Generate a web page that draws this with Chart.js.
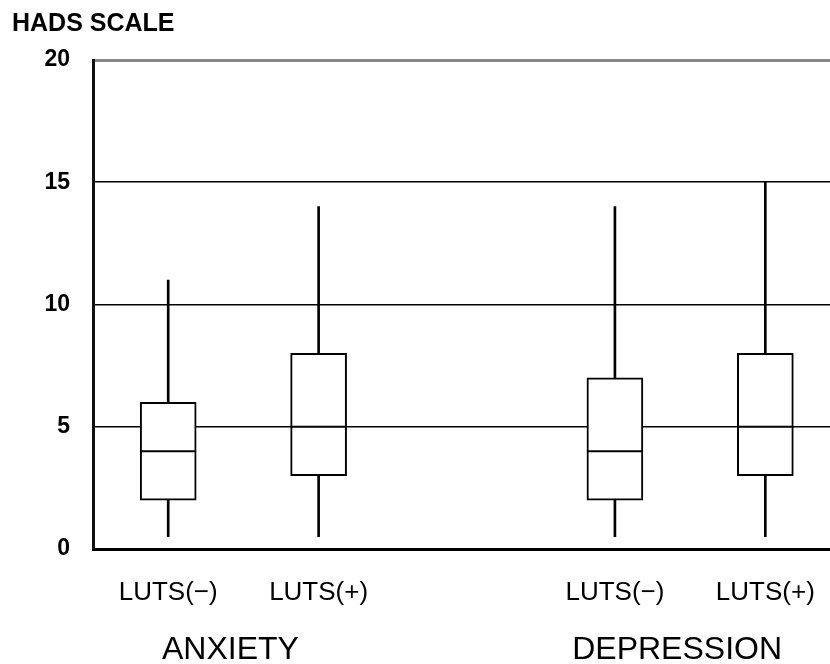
<!DOCTYPE html>
<html>
<head>
<meta charset="utf-8">
<script src="https://cdn.jsdelivr.net/npm/chart.js@4"></script>
<style>
  html, body { margin: 0; padding: 0; background: #fff; overflow: hidden; }
  canvas { display: block; }
</style>
</head>
<body>
<canvas id="hadsChart" width="830" height="664"></canvas>
<script>
// categories and where they sit along the x axis (gap between the two groups)
const categories = ["LUTS(\u2212)", "LUTS(+)", "LUTS(\u2212)", "LUTS(+)"];
const xPositions = [0.5, 1.5, 3.47, 4.47];
const groups = [
    {label: "ANXIETY", from: 0, to: 1},
    {label: "DEPRESSION", from: 2, to: 3}
];

// box plot values
const minValues    = [0.5, 0.5, 0.5, 0.5];
const q1Values     = [2, 3, 2, 3];
const medianValues = [4, 5, 4, 5];
const q3Values     = [6, 8, 7, 8];
const maxValues    = [11, 14, 14, 15];

const yTicks = [0, 5, 10, 15, 20];

const whiskers = xPositions.map((x, i) => ({x: x, y: [minValues[i], maxValues[i]]}));
const boxes = xPositions.map((x, i) => ({x: x, y: [q1Values[i], q3Values[i]]}));
const medians = xPositions.map((x, i) => ({x: x, y: medianValues[i]}));

const labelFont = "'Liberation Sans', Arial, sans-serif";

// group labels under the category labels
const groupLabels = {
    id: "groupLabels",
    afterDraw(chart) {
        const ctx = chart.ctx;
        const x = chart.scales.x;
        ctx.save();
        ctx.font = "32px " + labelFont;
        ctx.fillStyle = "#000";
        ctx.textAlign = "center";
        ctx.textBaseline = "middle";
        groups.forEach(g => {
            const px = (x.getPixelForValue(xPositions[g.from]) + x.getPixelForValue(xPositions[g.to])) / 2;
            ctx.fillText(g.label, px - 13, 650);
        });
        ctx.restore();
    }
};

function drawChart() {
    const ctx = document.getElementById("hadsChart").getContext("2d");
    new Chart(ctx, {
        type: "bar",
        data: {
            datasets: [
                {
                    type: "line",
                    label: "median",
                    data: medians,
                    showLine: false,
                    pointStyle: "line",
                    pointRadius: 28,
                    pointHoverRadius: 28,
                    borderColor: "#000",
                    pointBorderWidth: 2,
                    order: 0
                },
                {
                    label: "box",
                    data: boxes,
                    grouped: false,
                    barThickness: 56,
                    backgroundColor: "#fff",
                    borderColor: "#000",
                    borderWidth: 2,
                    borderSkipped: false,
                    order: 1
                },
                {
                    label: "whisker",
                    data: whiskers,
                    grouped: false,
                    barThickness: 2,
                    backgroundColor: "#000",
                    borderWidth: 0,
                    order: 2
                }
            ]
        },
        options: {
            responsive: false,
            animation: false,
            layout: {autoPadding: false, padding: {left: 12, right: 0, top: 0, bottom: 0}},
            plugins: {
                legend: {display: false},
                tooltip: {enabled: false},
                title: {
                    display: true,
                    text: "HADS SCALE",
                    align: "start",
                    color: "#000",
                    font: {family: labelFont, size: 25, weight: "bold"},
                    padding: {top: 9, bottom: 21}
                }
            },
            scales: {
                x: {
                    type: "linear",
                    offset: false,
                    min: 0,
                    max: 4.9,
                    afterBuildTicks: axis => { axis.ticks = xPositions.map(v => ({value: v})); },
                    afterFit: axis => {
                        axis.paddingLeft = 0;
                        axis.paddingRight = 0;
                        axis.height = 115;
                    },
                    grid: {display: false, drawTicks: false},
                    border: {display: true, color: "#000", width: 3},
                    ticks: {
                        color: "#000",
                        padding: 28,
                        autoSkip: false,
                        maxRotation: 0,
                        callback: (value, index) => categories[index],
                        font: {family: labelFont, size: 26}
                    }
                },
                y: {
                    min: 0,
                    max: 20,
                    afterBuildTicks: axis => { axis.ticks = yTicks.map(v => ({value: v})); },
                    afterFit: axis => { axis.width = 81; },
                    border: {display: true, color: "#111", width: 3},
                    grid: {
                        drawTicks: false,
                        color: c => c.tick.value === 20 ? "#888" : "#000",
                        lineWidth: c => c.tick.value === 20 ? 3 : 1.6
                    },
                    ticks: {
                        color: "#000",
                        padding: 23,
                        font: {family: labelFont, size: 23, weight: "bold"}
                    }
                }
            }
        },
        plugins: [groupLabels]
    });
}

document.addEventListener("DOMContentLoaded", drawChart);
</script>
</body>
</html>
